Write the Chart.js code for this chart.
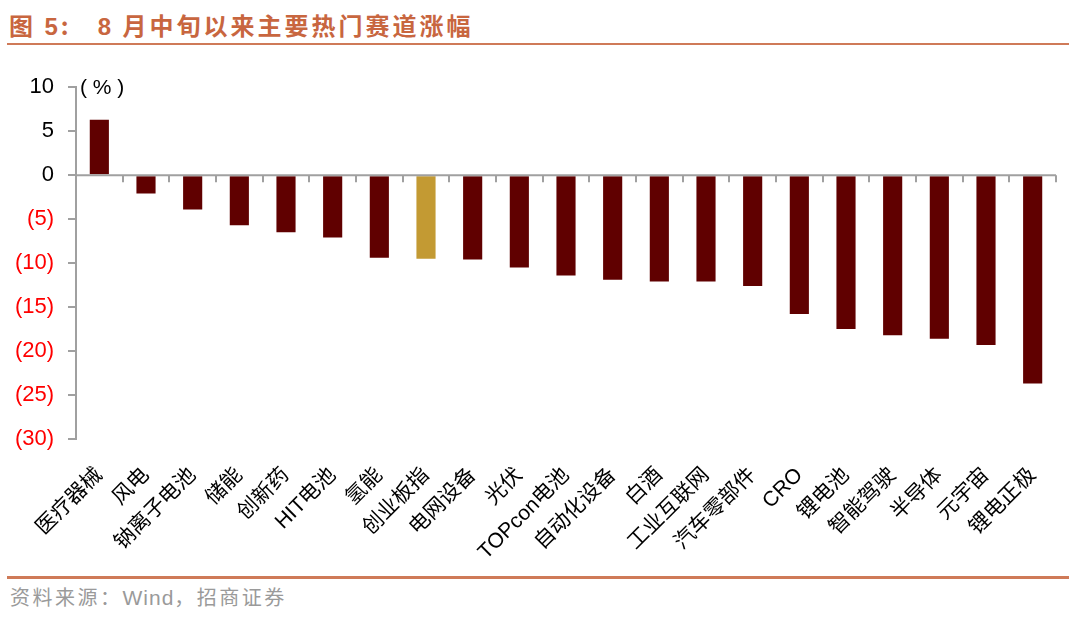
<!DOCTYPE html>
<html>
<head>
<meta charset="utf-8">
<script src="https://cdn.jsdelivr.net/npm/chart.js@4.4.0/dist/chart.umd.min.js"></script>
<style>
  html, body { margin: 0; padding: 0; background: #fff; width: 1080px; height: 618px; overflow: hidden; position: relative; }
  #title { position: absolute; left: 9px; top: 9px; font-family: "Noto Sans CJK SC", sans-serif; font-weight: bold; font-size: 24px; color: #C8663F; letter-spacing: 3px; white-space: pre; line-height: 32px; }
  #title .n { font-family: "Liberation Sans", Arial, sans-serif; }
  #title .gap { margin-left: 26px; }
  #topline { position: absolute; left: 7px; top: 43px; width: 1062px; height: 2px; background: #CF7A58; }
  #botline { position: absolute; left: 7px; top: 576px; width: 1062px; height: 3px; background: #CF7A58; }
  #source { position: absolute; left: 10px; top: 584px; font-family: "Noto Sans CJK SC", sans-serif; font-size: 20px; color: #9A9A9A; letter-spacing: 2.5px; white-space: pre; line-height: 26px; }
  #source .n { font-family: "Liberation Sans", Arial, sans-serif; font-size: 21px; letter-spacing: 1px; }
  #wrap { position: absolute; left: 0; top: 60px; width: 1080px; height: 510px; }
</style>
</head>
<body>
<div id="title">图 <span class="n">5</span>:<span class="n gap">8</span> 月中旬以来主要热门赛道涨幅</div>
<div id="topline"></div>
<div id="wrap"><canvas id="c"></canvas></div>
<div id="botline"></div>
<div id="source">资料来源：<span class="n">Wind</span>，招商证券</div>
<script>
const categories = ['医疗器械','风电','钠离子电池','储能','创新药','HIT电池','氢能','创业板指','电网设备','光伏','TOPcon电池','自动化设备','白酒','工业互联网','汽车零部件','CRO','锂电池','智能驾驶','半导体','元宇宙','锂电正极'];
const values = [6.3, -2.1, -3.9, -5.7, -6.5, -7.1, -9.4, -9.5, -9.6, -10.5, -11.4, -11.9, -12.1, -12.1, -12.6, -15.8, -17.5, -18.2, -18.6, -19.3, -23.7];
const highlightCategory = '创业板指';
const yMin = -30, yMax = 10, yStep = 5;
const unitLabel = '( % )';

const barColor = '#600000';
const highlightColor = '#C39A33';

const zeroLinePlugin = {
  id: 'zeroLine',
  afterDatasetsDraw(chart) {
    const { ctx, chartArea, scales } = chart;
    const y0 = scales.y.getPixelForValue(0);
    ctx.save();
    ctx.strokeStyle = '#A0A0A0';
    ctx.lineWidth = 2;
    ctx.beginPath();
    ctx.moveTo(chartArea.left, y0);
    ctx.lineTo(chartArea.right, y0);
    ctx.stroke();
    const n = categories.length;
    const w = (chartArea.right - chartArea.left) / n;
    for (let i = 1; i <= n; i++) {
      const x = Math.round(chartArea.left + i * w);
      ctx.beginPath();
      ctx.moveTo(x, y0);
      ctx.lineTo(x, y0 + 7);
      ctx.stroke();
    }
    ctx.fillStyle = '#000';
    ctx.font = '21px "Liberation Sans", "Noto Sans CJK SC", sans-serif';
    ctx.textBaseline = 'middle';
    ctx.textAlign = 'left';
    ctx.fillText(unitLabel, chartArea.left + 4, scales.y.getPixelForValue(yMax) + 1);
    ctx.restore();
  }
};

new Chart(document.getElementById('c'), {
  type: 'bar',
  data: {
    labels: categories,
    datasets: [{
      data: values,
      backgroundColor: categories.map(c => c === highlightCategory ? highlightColor : barColor),
      borderWidth: 0,
      barPercentage: 0.41,
      categoryPercentage: 1.0
    }]
  },
  options: {
    responsive: true,
    maintainAspectRatio: false,
    animation: false,
    devicePixelRatio: 1,
    layout: { padding: { top: 27, right: 24, left: 0, bottom: 0 } },
    plugins: { legend: { display: false }, tooltip: { enabled: false } },
    scales: {
      x: {
        grid: { display: false, drawTicks: false },
        border: { display: false },
        ticks: {
          autoSkip: false,
          maxRotation: 45,
          minRotation: 45,
          padding: 24,
          color: '#000',
          font: { family: '"Liberation Sans", "Noto Sans CJK SC", sans-serif', size: 21 }
        },
        afterFit(scale) { scale.height = 131; }
      },
      y: {
        min: yMin,
        max: yMax,
        grid: { drawOnChartArea: false, drawTicks: true, tickLength: 8, color: '#A0A0A0', lineWidth: 2 },
        border: { display: true, color: '#A0A0A0', width: 2 },
        ticks: {
          stepSize: yStep,
          padding: 14,
          font: { family: '"Liberation Sans", Arial, sans-serif', size: 22 },
          color: ctx => (ctx.tick && ctx.tick.value < 0) ? '#FF0000' : '#000000',
          callback: v => v < 0 ? '(' + Math.abs(v) + ')' : String(v)
        },
        afterFit(scale) { scale.width = 76; }
      }
    }
  },
  plugins: [zeroLinePlugin]
});
</script>
</body>
</html>
